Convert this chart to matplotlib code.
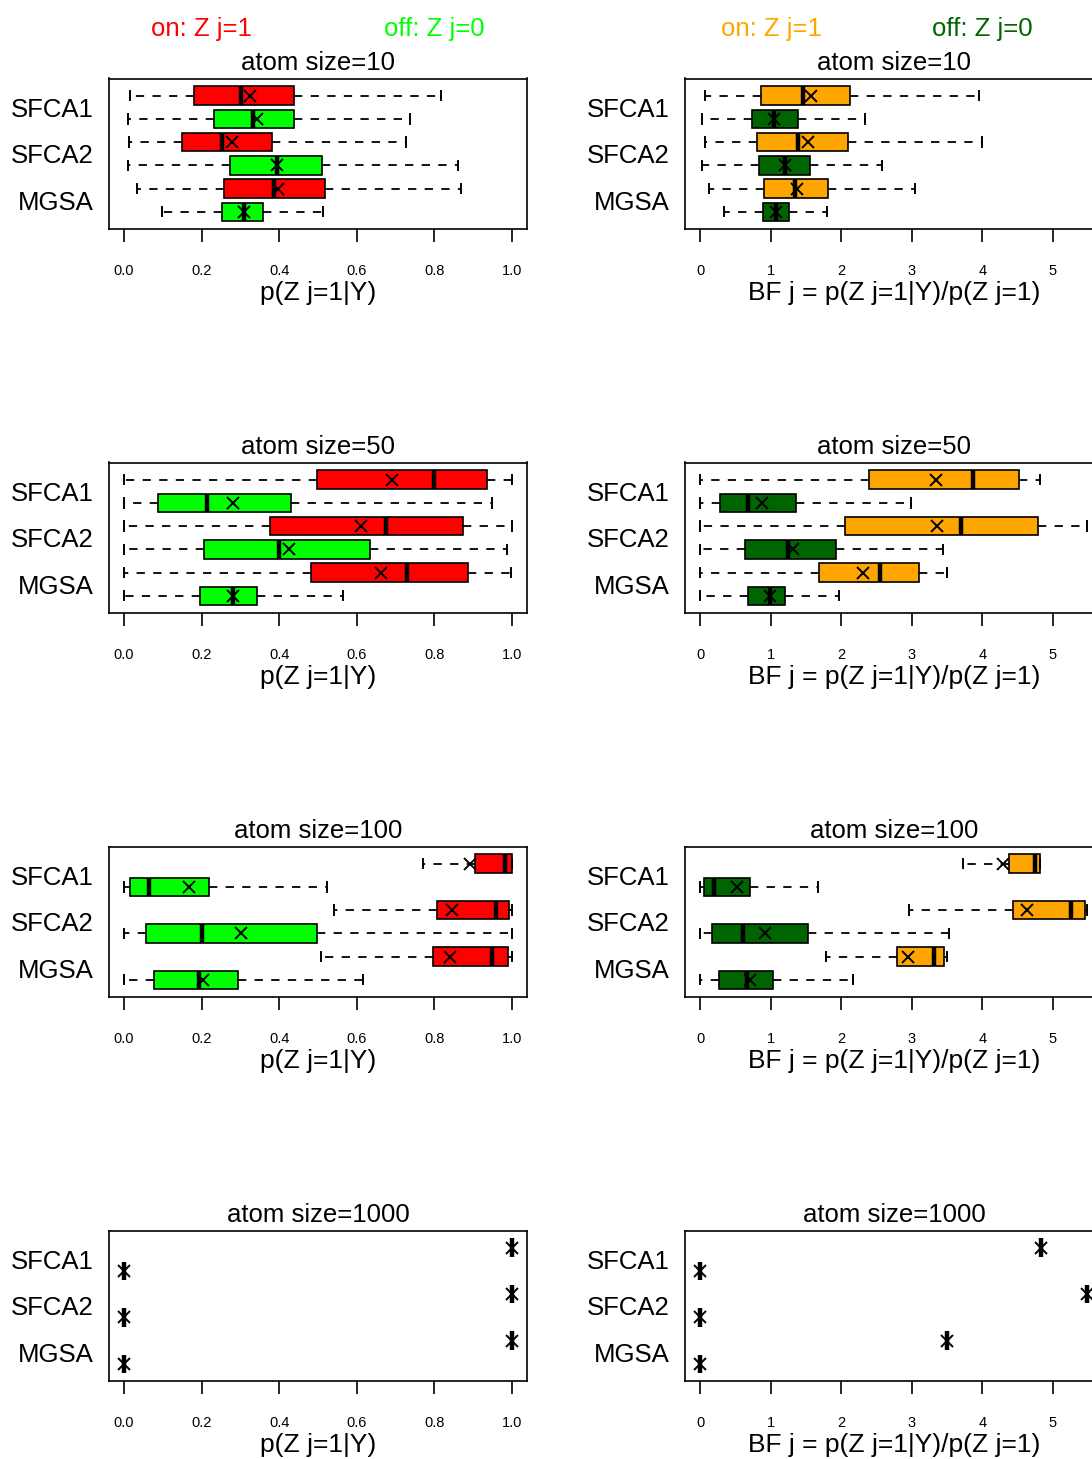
"""
Boxplots of posterior inclusion probabilities and Bayes factors
for the SFCA1 / SFCA2 / MGSA gene sets at several atom sizes.
"""

import matplotlib

matplotlib.use("Agg")
import matplotlib.pyplot as plt
import matplotlib.transforms as mtransforms
from matplotlib.ticker import FormatStrFormatter

plt.rcParams["font.family"] = ["Liberation Sans", "DejaVu Sans"]

GENE_SETS = ["SFCA1", "SFCA2", "MGSA"]
ATOM_SIZES = [10, 50, 100, 1000]

# rows: SFCA1 on, SFCA1 off, SFCA2 on, SFCA2 off, MGSA on, MGSA off
# columns: whisker low, Q1, median, Q3, whisker high, mean
post_10 = [
    [0.016, 0.180, 0.301, 0.439, 0.818, 0.325],
    [0.009, 0.232, 0.333, 0.438, 0.736, 0.342],
    [0.014, 0.149, 0.253, 0.381, 0.728, 0.279],
    [0.009, 0.272, 0.394, 0.511, 0.861, 0.394],
    [0.034, 0.258, 0.387, 0.519, 0.869, 0.398],
    [0.099, 0.253, 0.308, 0.359, 0.514, 0.308],
]
post_50 = [
    [0.000, 0.497, 0.800, 0.936, 1.000, 0.692],
    [0.000, 0.088, 0.214, 0.431, 0.948, 0.280],
    [0.000, 0.375, 0.674, 0.874, 1.000, 0.612],
    [0.000, 0.206, 0.400, 0.634, 0.987, 0.425],
    [0.000, 0.481, 0.729, 0.887, 0.998, 0.662],
    [0.000, 0.196, 0.282, 0.343, 0.564, 0.282],
]
post_100 = [
    [0.771, 0.905, 0.983, 1.000, 1.000, 0.892],
    [0.000, 0.016, 0.064, 0.220, 0.523, 0.168],
    [0.540, 0.808, 0.958, 0.993, 1.000, 0.845],
    [0.000, 0.057, 0.200, 0.497, 1.000, 0.301],
    [0.507, 0.796, 0.948, 0.989, 1.000, 0.840],
    [0.000, 0.077, 0.192, 0.294, 0.617, 0.204],
]
post_1000 = [
    [1.0, 1.0, 1.0, 1.0, 1.0, 1.0],
    [0.0, 0.0, 0.0, 0.0, 0.0, 0.0],
    [1.0, 1.0, 1.0, 1.0, 1.0, 1.0],
    [0.0, 0.0, 0.0, 0.0, 0.0, 0.0],
    [1.0, 1.0, 1.0, 1.0, 1.0, 1.0],
    [0.0, 0.0, 0.0, 0.0, 0.0, 0.0],
]

bf_10 = [
    [0.066, 0.862, 1.454, 2.121, 3.954, 1.563],
    [0.024, 0.729, 1.037, 1.378, 2.334, 1.046],
    [0.062, 0.805, 1.383, 2.088, 3.991, 1.520],
    [0.024, 0.833, 1.203, 1.548, 2.576, 1.203],
    [0.114, 0.895, 1.345, 1.809, 3.044, 1.364],
    [0.336, 0.881, 1.070, 1.255, 1.795, 1.070],
]
bf_50 = [
    [0.000, 2.391, 3.859, 4.522, 4.820, 3.338],
    [0.000, 0.270, 0.677, 1.359, 2.988, 0.876],
    [0.000, 2.045, 3.698, 4.792, 5.478, 3.348],
    [0.000, 0.630, 1.236, 1.922, 3.442, 1.307],
    [0.000, 1.676, 2.552, 3.101, 3.494, 2.311],
    [0.000, 0.677, 0.980, 1.203, 1.970, 0.980],
]
bf_100 = [
    [3.717, 4.370, 4.744, 4.820, 4.820, 4.290],
    [0.000, 0.043, 0.194, 0.701, 1.667, 0.521],
    [2.964, 4.432, 5.256, 5.450, 5.478, 4.631],
    [0.000, 0.161, 0.597, 1.520, 3.527, 0.919],
    [1.776, 2.784, 3.310, 3.461, 3.494, 2.940],
    [0.000, 0.265, 0.663, 1.023, 2.159, 0.701],
]
bf_1000 = [
    [4.830, 4.830, 4.830, 4.830, 4.830, 4.830],
    [0.0, 0.0, 0.0, 0.0, 0.0, 0.0],
    [5.483, 5.483, 5.483, 5.483, 5.483, 5.483],
    [0.0, 0.0, 0.0, 0.0, 0.0, 0.0],
    [3.494, 3.494, 3.494, 3.494, 3.494, 3.494],
    [0.0, 0.0, 0.0, 0.0, 0.0, 0.0],
]

POST_PANELS = [post_10, post_50, post_100, post_1000]
BF_PANELS = [bf_10, bf_50, bf_100, bf_1000]

POST_TICKS = [0.0, 0.2, 0.4, 0.6, 0.8, 1.0]
BF_TICKS = [0, 1, 2, 3, 4, 5]

POST_COLORS = ["#FF0000", "#00FF00"]
BF_COLORS = ["#FFA500", "#006400"]

W, H = 1092, 1459


def to_stats(rows):
    """Turn the six-column rows into dicts for Axes.bxp."""
    return [
        dict(whislo=r[0], q1=r[1], med=r[2], q3=r[3], whishi=r[4], mean=r[5], fliers=[])
        for r in rows
    ]


def draw_panel(ax, rows, colors, ticks, xlim, title, xlabel, fmt):
    bp = ax.bxp(
        to_stats(rows),
        positions=range(1, 7),
        widths=0.8,
        capwidths=0.4,
        orientation="horizontal",
        patch_artist=True,
        showmeans=True,
        showfliers=False,
        boxprops=dict(linewidth=1.2, edgecolor="black"),
        whiskerprops=dict(linewidth=1.3, color="black", linestyle=(0, (4.6, 4.6))),
        capprops=dict(linewidth=1.4, color="black"),
        medianprops=dict(linewidth=3.2, color="black", solid_capstyle="butt"),
        meanprops=dict(marker="x", markeredgecolor="black", markersize=8,
                       markeredgewidth=1.4),
    )
    for i, box in enumerate(bp["boxes"]):
        box.set_facecolor(colors[i % 2])

    ax.set_xlim(*xlim)
    ax.set_ylim(6.74, 0.26)
    ax.set_yticks([1.5, 3.5, 5.5], GENE_SETS, fontsize=18.5)
    ax.tick_params(axis="y", length=0, pad=11)
    ax.set_xticks(ticks)
    ax.xaxis.set_major_formatter(FormatStrFormatter(fmt))
    ax.tick_params(axis="x", length=9.5, width=1.2, pad=16, labelsize=10.5)
    ax.set_xlabel(xlabel, fontsize=19, labelpad=2)
    ax.set_title(title, fontsize=18.5, pad=6)
    for sp in ax.spines.values():
        sp.set_linewidth(1.2)


fig = plt.figure(figsize=(W / 100, H / 100), dpi=100)

for i, size in enumerate(ATOM_SIZES):
    top = 78.5 + 384 * i
    bottom = 1 - (top + 150.5) / H
    ax_l = fig.add_axes([109 / W, bottom, 418 / W, 150.5 / H])
    ax_r = fig.add_axes([685 / W, bottom, 418 / W, 150.5 / H])

    draw_panel(ax_l, POST_PANELS[i], POST_COLORS, POST_TICKS, (-0.0387, 1.0387),
               f"atom size={size}", "p(Z j=1|Y)", "%.1f")
    draw_panel(ax_r, BF_PANELS[i], BF_COLORS, BF_TICKS, (-0.2196, 5.7096),
               f"atom size={size}", "BF j = p(Z j=1|Y)/p(Z j=1)", "%d")

    if i == 0:
        # colour key above the first row of panels
        y_key = 1 - 36 / H
        for ax, xs, cols in [(ax_l, (0.2, 0.8), POST_COLORS), (ax_r, (1, 4), BF_COLORS)]:
            tr = mtransforms.blended_transform_factory(ax.transData, fig.transFigure)
            ax.text(xs[0], y_key, "on: Z j=1", color=cols[0], fontsize=18.5,
                    ha="center", va="baseline", transform=tr)
            ax.text(xs[1], y_key, "off: Z j=0", color=cols[1], fontsize=18.5,
                    ha="center", va="baseline", transform=tr)

fig.savefig("out.png", dpi=100)
plt.close(fig)
